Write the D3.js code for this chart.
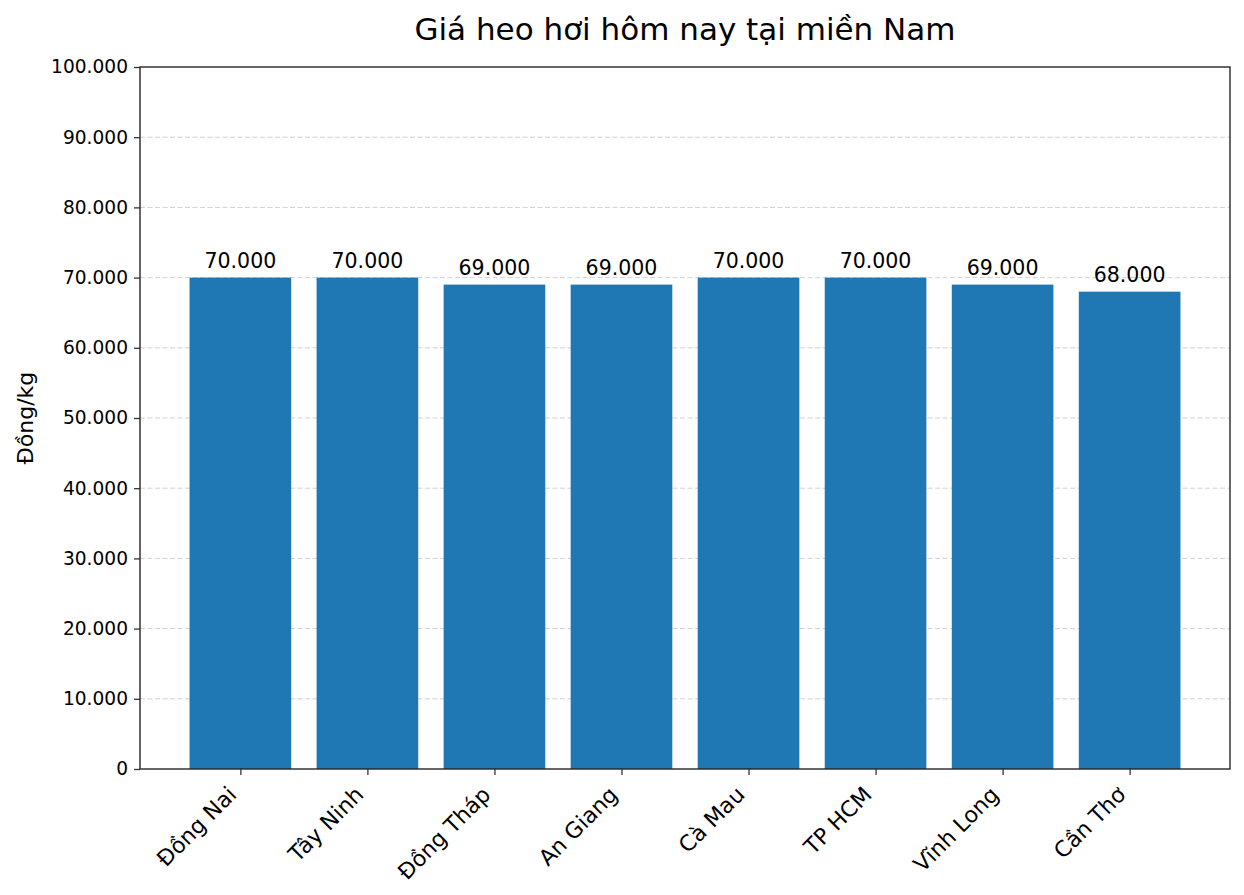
<!DOCTYPE html>
<html>
<head>
<meta charset="utf-8">
<script src="https://cdn.jsdelivr.net/npm/d3@7"></script>
<style>
  html, body { margin: 0; padding: 0; background: #fff; }
  svg { display: block; font-family: "DejaVu Sans", sans-serif; }
</style>
</head>
<body>
<svg id="chart" width="1244" height="895"></svg>
<script>
const categories = ["Đồng Nai", "Tây Ninh", "Đồng Tháp", "An Giang", "Cà Mau", "TP HCM", "Vĩnh Long", "Cần Thơ"];
const prices = [70000, 70000, 69000, 69000, 70000, 70000, 69000, 68000];
const yTicks = [0, 10000, 20000, 30000, 40000, 50000, 60000, 70000, 80000, 90000, 100000];
const titleText = "Giá heo hơi hôm nay tại miền Nam";
const yLabelText = "Đồng/kg";

const W = 1244, H = 895;
const m = { left: 140, right: 1230, top: 67, bottom: 769 };
const svg = d3.select("#chart");

const fmt = v => v === 0 ? "0" : d3.format(",")(v).replace(/,/g, ".");

const x = d3.scaleLinear().domain([-0.79, categories.length - 1 + 0.79]).range([m.left, m.right]);
const y = d3.scaleLinear().domain([0, 100000]).range([m.bottom, m.top]);
const barW = x(0.4) - x(-0.4);

// grid
svg.append("g").selectAll("line").data(yTicks.filter(t => t > 0 && t < 100000)).join("line")
  .attr("x1", m.left).attr("x2", m.right)
  .attr("y1", d => y(d)).attr("y2", d => y(d))
  .attr("stroke", "#b0b0b0").attr("stroke-opacity", 0.6)
  .attr("stroke-width", 1).attr("stroke-dasharray", "5,2.5");

// bars
svg.append("g").selectAll("rect").data(prices).join("rect")
  .attr("x", (d, i) => x(i) - barW / 2)
  .attr("width", barW)
  .attr("y", d => y(d))
  .attr("height", d => y(0) - y(d))
  .attr("fill", "#1f77b4");

// bar labels
svg.append("g").selectAll("text").data(prices).join("text")
  .attr("x", (d, i) => x(i))
  .attr("y", d => y(d) - 9.5)
  .attr("text-anchor", "middle")
  .attr("font-size", 20.5)
  .attr("fill", "#000")
  .text(d => fmt(d));

// y axis
const yAxis = d3.axisLeft(y).tickValues(yTicks).tickFormat(fmt).tickSize(6).tickPadding(6);
const gy = svg.append("g").attr("transform", `translate(${m.left},0)`).call(yAxis);
gy.select(".domain").remove();
gy.selectAll(".tick line").attr("stroke", "#333").attr("stroke-width", 1.3);
gy.selectAll(".tick text").attr("font-size", 18.6).attr("fill", "#000").attr("font-family", "DejaVu Sans");

// x axis
const xAxis = d3.axisBottom(x).tickValues(d3.range(categories.length)).tickFormat(i => categories[i]).tickSize(6).tickPadding(6);
const gx = svg.append("g").attr("transform", `translate(0,${m.bottom})`).call(xAxis);
gx.select(".domain").remove();
gx.selectAll(".tick line").attr("stroke", "#333").attr("stroke-width", 1.3);
gx.selectAll(".tick text")
  .attr("font-size", 22).attr("fill", "#000").attr("font-family", "DejaVu Sans")
  .attr("text-anchor", "end")
  .attr("dy", null)
  .attr("y", 0)
  .attr("transform", "translate(-3,27) rotate(-45)");

// frame
svg.append("rect")
  .attr("x", m.left).attr("y", m.top)
  .attr("width", m.right - m.left).attr("height", m.bottom - m.top)
  .attr("fill", "none").attr("stroke", "#262626").attr("stroke-width", 1.4);

// title
svg.append("text")
  .attr("x", (m.left + m.right) / 2).attr("y", 40)
  .attr("text-anchor", "middle").attr("font-size", 31)
  .attr("fill", "#000").text(titleText);

// y label
svg.append("text")
  .attr("transform", `translate(33,${(m.top + m.bottom) / 2}) rotate(-90)`)
  .attr("text-anchor", "middle").attr("font-size", 22)
  .attr("fill", "#000").text(yLabelText);
</script>
</body>
</html>
